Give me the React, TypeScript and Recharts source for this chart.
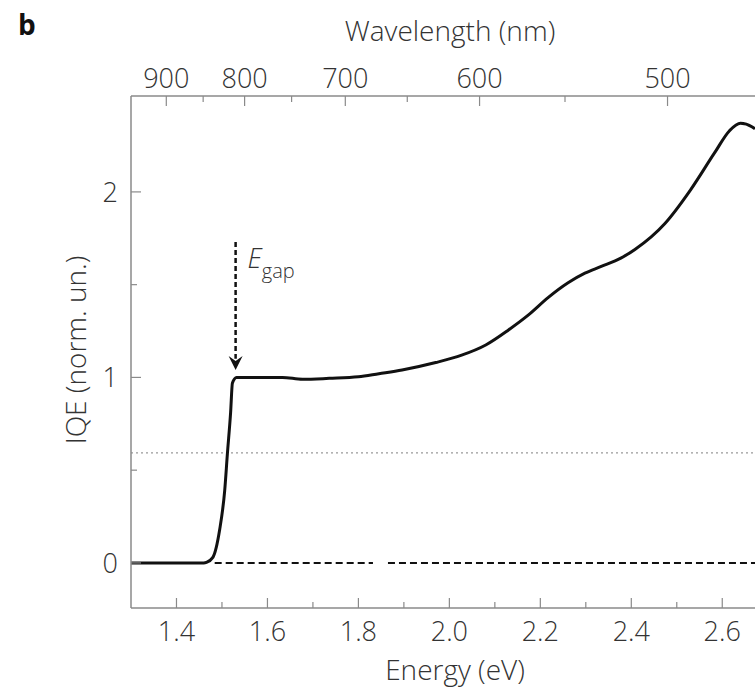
import React from "react";
import {
  LineChart,
  Line,
  XAxis,
  YAxis,
  ReferenceLine,
  ReferenceDot,
} from "recharts";

// IQE spectrum (energy in eV, IQE normalised at the gap)
const ENERGY = [
  1.3, 1.4, 1.46, 1.466, 1.48, 1.495, 1.506, 1.512, 1.519, 1.523, 1.532, 1.6,
  1.633, 1.677, 1.736, 1.8, 1.845, 1.896, 1.97, 2.027, 2.08, 2.13, 2.174,
  2.217, 2.261, 2.298, 2.334, 2.377, 2.408, 2.474, 2.53, 2.583, 2.616, 2.64,
  2.666, 2.672,
];
const IQE = [
  0, 0, 0, 0.003, 0.03, 0.18, 0.39, 0.59, 0.81, 0.97, 1.0, 1.0, 1.0, 0.99,
  0.995, 1.003, 1.02, 1.04, 1.08, 1.12, 1.175, 1.256, 1.337, 1.43, 1.51,
  1.562, 1.598, 1.643, 1.69, 1.83, 2.01, 2.21, 2.33, 2.37, 2.35, 2.34,
];

const ENERGY_TICKS = [1.4, 1.5, 1.6, 1.7, 1.8, 1.9, 2.0, 2.1, 2.2, 2.3, 2.4, 2.5, 2.6];
const WAVELENGTH_TICKS = [900, 850, 800, 750, 700, 650, 600, 550, 500];
const IQE_TICKS = [0, 0.5, 1, 1.5, 2];

const E_GAP = 1.53;
const GUIDE_LEVEL = 0.593;
// the zero baseline is drawn in two dashed pieces with a small break
const ZERO_SEGMENTS = [
  [1.484, 1.832],
  [1.865, 2.672],
];

const HC = 1239.84; // eV·nm

const data = ENERGY.map((e, i) => ({ energy: e, iqe: IQE[i] }));
const topTicks = WAVELENGTH_TICKS.map((w) => HC / w);

const AXIS = "#8a8a8a";
const TEXT = "#333";
const FONT = "'Open Sans', 'Noto Sans', sans-serif";
const FS = 27;

const BottomTick = (props: any) => {
  const { x, y, payload } = props;
  const v = payload.value as number;
  const major = Math.round(v * 10) % 2 === 0;
  return (
    <g>
      <line x1={x} y1={y} x2={x} y2={y - (major ? 10 : 6)} stroke={AXIS} strokeWidth={1.2} />
      {major && (
        <text x={x} y={y + 33} textAnchor="middle" fill={TEXT} fontSize={FS} fontFamily={FONT} fontWeight={300}>
          {v.toFixed(1)}
        </text>
      )}
    </g>
  );
};

const TopTick = (props: any) => {
  const { x, y, payload } = props;
  const w = Math.round(HC / (payload.value as number));
  const major = w % 100 === 0;
  return (
    <g>
      <line x1={x} y1={y} x2={x} y2={y + (major ? 10 : 6)} stroke={AXIS} strokeWidth={1.2} />
      {major && (
        <text x={x} y={y - 8} textAnchor="middle" fill={TEXT} fontSize={FS} fontFamily={FONT} fontWeight={300}>
          {w}
        </text>
      )}
    </g>
  );
};

const LeftTick = (props: any) => {
  const { x, y, payload } = props;
  const v = payload.value as number;
  const major = Number.isInteger(v);
  return (
    <g>
      <line x1={x} y1={y} x2={x + (major ? 10 : 6)} y2={y} stroke={AXIS} strokeWidth={1.2} />
      {major && (
        <text x={x - 13} y={y + 10} textAnchor="end" fill={TEXT} fontSize={FS} fontFamily={FONT} fontWeight={300}>
          {v}
        </text>
      )}
    </g>
  );
};

const ArrowHead = (props: any) => {
  const { cx, cy } = props;
  return (
    <polygon
      points={`${cx - 7},${cy - 14} ${cx},${cy - 9} ${cx + 7},${cy - 14} ${cx},${cy}`}
      fill="#111"
    />
  );
};

const GapLabel = (props: any) => {
  const { cx, cy } = props;
  return (
    <text x={cx + 12} y={cy} fill={TEXT} fontFamily={FONT} fontWeight={300}>
      <tspan fontSize={27} fontStyle="italic">E</tspan>
      <tspan fontSize={20} dy={10}>gap</tspan>
    </text>
  );
};

const titleStyle: React.CSSProperties = {
  position: "absolute",
  textAlign: "center",
  fontFamily: FONT,
  fontWeight: 300,
  fontSize: 28,
  lineHeight: "32px",
  color: TEXT,
  whiteSpace: "nowrap",
};

export default function App() {
  return (
    <div style={{ position: "absolute", left: 0, top: 0, width: 755, height: 690, overflow: "hidden", background: "#fff" }}>
      <LineChart width={755} height={690} data={data} margin={{ top: 0, right: 0, bottom: 0, left: 0 }}>
        <XAxis
          xAxisId="top"
          orientation="top"
          type="number"
          dataKey="energy"
          domain={[1.3, 2.672]}
          ticks={topTicks}
          interval={0}
          height={96}
          tickSize={0}
          tickMargin={0}
          tickLine={false}
          tick={<TopTick />}
          axisLine={{ stroke: AXIS, strokeWidth: 1.5 }}
          allowDataOverflow
        />
        <XAxis
          xAxisId="bottom"
          type="number"
          dataKey="energy"
          domain={[1.3, 2.672]}
          ticks={ENERGY_TICKS}
          interval={0}
          height={82}
          tickSize={0}
          tickMargin={0}
          tickLine={false}
          tick={<BottomTick />}
          axisLine={{ stroke: AXIS, strokeWidth: 1.5 }}
          allowDataOverflow
        />
        <YAxis
          type="number"
          domain={[-0.243, 2.517]}
          ticks={IQE_TICKS}
          interval={0}
          width={131}
          tickSize={0}
          tickMargin={0}
          tickLine={false}
          tick={<LeftTick />}
          axisLine={{ stroke: AXIS, strokeWidth: 1.5 }}
          allowDataOverflow
        />
        <ReferenceLine
          xAxisId="bottom"
          y={GUIDE_LEVEL}
          stroke="#999"
          strokeWidth={1.3}
          strokeDasharray="2 3"
        />
        {ZERO_SEGMENTS.map(([a, b], i) => (
          <ReferenceLine
            key={i}
            xAxisId="bottom"
            segment={[
              { x: a, y: 0 },
              { x: b, y: 0 },
            ]}
            stroke="#111"
            strokeWidth={2}
            strokeDasharray="7 4"
          />
        ))}
        <ReferenceLine
          xAxisId="bottom"
          segment={[
            { x: E_GAP, y: 1.73 },
            { x: E_GAP, y: 1.1 },
          ]}
          stroke="#111"
          strokeWidth={2.5}
          strokeDasharray="5 3"
        />
        <ReferenceDot xAxisId="bottom" x={E_GAP} y={1.04} shape={<ArrowHead />} />
        <ReferenceDot xAxisId="bottom" x={E_GAP} y={1.59} shape={<GapLabel />} />
        <Line
          xAxisId="bottom"
          type="monotone"
          dataKey="iqe"
          stroke="#111"
          strokeWidth={3}
          dot={false}
          isAnimationActive={false}
        />
      </LineChart>
      <div style={{ position: "absolute", left: 18, top: 8, fontFamily: FONT, fontWeight: 700, fontSize: 28, lineHeight: "32px", color: "#111" }}>
        b
      </div>
      <div style={{ ...titleStyle, left: 250, width: 400, top: 14 }}>Wavelength (nm)</div>
      <div style={{ ...titleStyle, left: 255, width: 400, top: 653 }}>Energy (eV)</div>
      <div
        style={{
          ...titleStyle,
          left: 75 - 150,
          top: 350 - 16,
          width: 300,
          transform: "rotate(-90deg)",
        }}
      >
        IQE (norm. un.)
      </div>
    </div>
  );
}
